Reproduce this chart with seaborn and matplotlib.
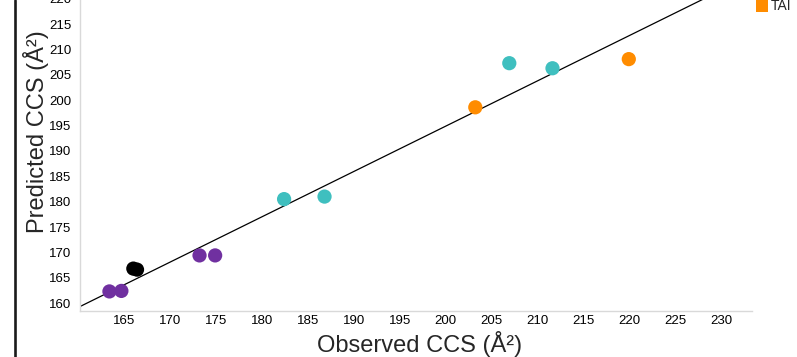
import matplotlib

matplotlib.use("Agg")
import matplotlib.pyplot as plt
import numpy as np
import pandas as pd
import seaborn as sns
from matplotlib.lines import Line2D
from matplotlib.patches import Patch

# Observed vs predicted CCS values, grouped by colour
observed = [163.4, 164.7, 166.0, 166.4, 173.2, 174.9, 182.4, 186.8, 206.9, 211.6, 203.2, 219.9]
predicted = [162.3, 162.4, 166.8, 166.6, 169.4, 169.4, 180.5, 181.0, 207.3, 206.3, 198.6, 208.1]
group = ["purple", "purple", "black", "black", "purple", "purple",
         "teal", "teal", "teal", "teal", "TAI", "TAI"]

palette = {"purple": "#7030a0", "black": "#000000", "teal": "#3fbfbf", "TAI": "#ff8c00"}

# trendline
slope = 0.894
intercept = 16.1

x_ticks = list(range(165, 231, 5))
y_ticks = list(range(160, 221, 5))


def main():
    sns.set_style("white")
    plt.rcParams["font.family"] = ["Liberation Sans", "DejaVu Sans"]

    df = pd.DataFrame({"observed": observed, "predicted": predicted, "group": group})

    fig = plt.figure(figsize=(7.97, 3.57), dpi=100)
    ax = fig.add_axes([0.1004, 0.1297, 0.8431, 0.9448])

    xlim = (160.2, 233.3)
    xs = np.array(xlim)
    ax.plot(xs, slope * xs + intercept, color="black", lw=0.9, zorder=1)

    sns.scatterplot(
        data=df, x="observed", y="predicted", hue="group", palette=palette,
        s=105, linewidth=0, legend=False, ax=ax, zorder=3,
    )

    ax.set_xlim(*xlim)
    ax.set_ylim(158.5, 225)
    ax.set_xticks(x_ticks)
    ax.set_yticks(y_ticks)
    ax.tick_params(axis="both", labelsize=9.5, colors="#d9d9d9", labelcolor="black",
                   length=3, width=0.8, pad=3)
    ax.tick_params(axis="x", direction="in", length=2)

    for side in ["top", "right"]:
        ax.spines[side].set_visible(False)
    for side in ["left", "bottom"]:
        ax.spines[side].set_color("#d9d9d9")
        ax.spines[side].set_linewidth(1.0)

    ax.set_xlabel("")
    ax.set_ylabel("")
    fig.text(0.526, 0.037, "Observed CCS (Å²)", ha="center", va="center", fontsize=17)
    fig.text(0.045, 0.63, "Predicted CCS (Å²)", ha="center", va="center",
             fontsize=17, rotation=90)

    # thick frame line at the left edge
    fig.add_artist(Line2D([0.0192, 0.0192], [0, 1], color="#1a1a1a", lw=1.9,
                          transform=fig.transFigure))

    handle = Patch(facecolor=palette["TAI"], edgecolor="none")
    fig.legend([handle], ["TAI"], loc="center left", bbox_to_anchor=(0.949, 0.984),
               frameon=False, fontsize=10, handlelength=0.85, handleheight=1.1,
               handletextpad=0.2, borderpad=0, borderaxespad=0)

    fig.savefig("out.png", dpi=100)
    plt.close(fig)


if __name__ == "__main__":
    main()
